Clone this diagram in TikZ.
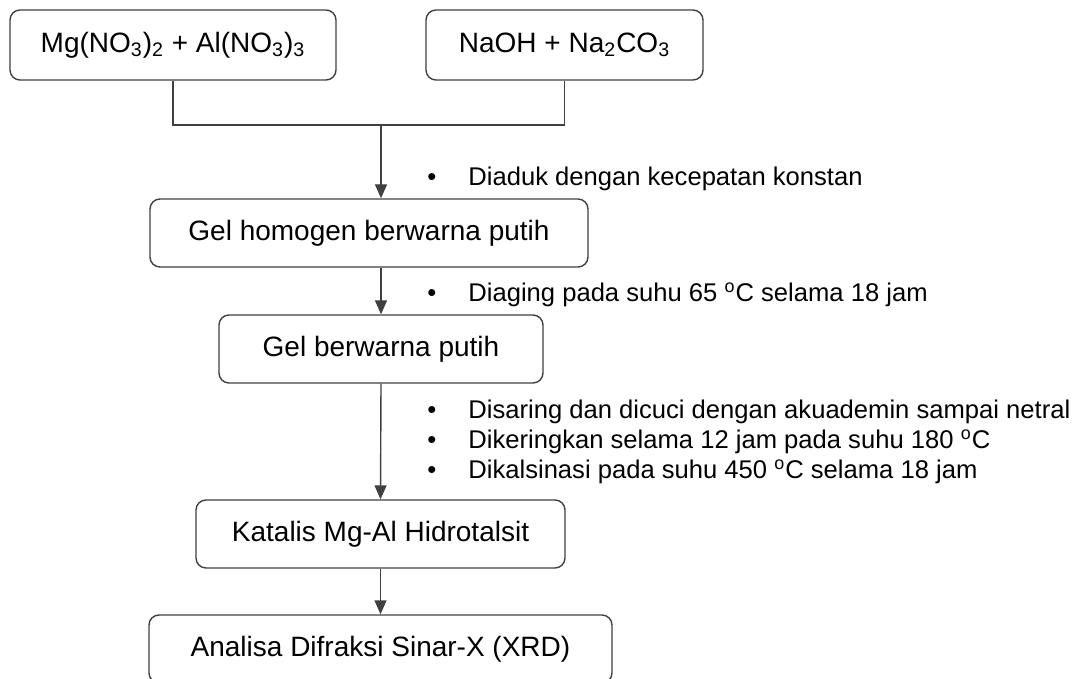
\documentclass[tikz,border=0pt]{standalone}
\usepackage{fontspec}
\setmainfont{Liberation Sans}
\usetikzlibrary{arrows.meta}
\newcommand{\dotitem}{\makebox[20.5pt][l]{\textbullet}}

\begin{document}
\begin{tikzpicture}[x=0.5pt,y=-0.5pt,
    box/.style={draw=black!75, line width=0.7pt, rounded corners=5pt, inner sep=0pt, font=\fontsize{14}{16}\selectfont},
    note/.style={anchor=west, align=left, inner sep=0pt, font=\fontsize{12.8}{15}\selectfont},
    link/.style={draw=black!75, line width=0.7pt},
    flow/.style={link, -{Triangle[width=6pt,length=7pt]}}]
    \useasboundingbox (0,0) rectangle (1076,679);
    % starting solutions
    \node[box, minimum width=163pt, minimum height=35pt] (mg) at (173,45) {Mg(NO\textsubscript{3})\textsubscript{2} + Al(NO\textsubscript{3})\textsubscript{3}};
    \node[box, minimum width=138.5pt, minimum height=35pt] (na) at (564.5,45) {NaOH + Na\textsubscript{2}CO\textsubscript{3}};
    \coordinate (join) at (381,125);
    % process steps
    \node[box, minimum width=219pt, minimum height=34pt] (gel) at (369,233) {Gel homogen berwarna putih};
    \node[box, minimum width=162pt, minimum height=34pt] (gelp) at (381,349) {Gel berwarna putih};
    \node[box, minimum width=184.5pt, minimum height=34pt] (kat) at (380.5,534) {Katalis Mg-Al Hidrotalsit};
    \node[box, minimum width=231.5pt, minimum height=34pt] (xrd) at (380.5,649) {Analisa Difraksi Sinar-X (XRD)};
    % connectors
    \draw[link] (mg.south) -- (mg.south |- join) -- (na.south |- join) -- (na.south);
    \draw[flow] (join) -- (join |- gel.north);
    \draw[flow] (gelp.north |- gel.south) -- (gelp.north);
    \draw[flow] (gelp.south) -- (kat.north);
    \draw[flow] (kat.south) -- (xrd.north);
    % treatment notes
    \node[note] (n1) at (427,179) {\dotitem Diaduk dengan kecepatan konstan};
    \node[note] (n2) at (427,295) {\dotitem Diaging pada suhu 65 \textsuperscript{o}C selama 18 jam};
    \node[note] (n3) at (427,442) {\dotitem Disaring dan dicuci dengan akuademin sampai netral\\
        \dotitem Dikeringkan selama 12 jam pada suhu 180 \textsuperscript{o}C\\
        \dotitem Dikalsinasi pada suhu 450 \textsuperscript{o}C selama 18 jam};
\end{tikzpicture}
\end{document}
